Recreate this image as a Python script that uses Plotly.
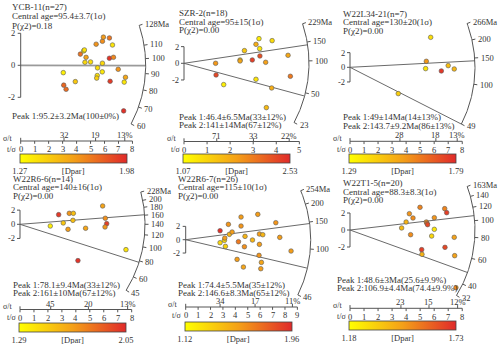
import numpy as np
import plotly.graph_objects as go

W, H = 500, 344
FONT = "Liberation Serif"
INK = "#333333"
LINE = "#555555"

# ---- sample summaries
samples = ["YCB-11", "SZR-2", "W22L34-21", "W22R6-6", "W22R6-7", "W22T1-5"]
n_grains = [27, 18, 7, 14, 26, 20]
central_txt = ["95.4±3.7", "95±15", "130±20", "140±16", "115±10", "88.3±8.3"]
central_age = [95.4, 95, 130, 140, 115, 88.3]
p_chi2 = ["0.18", "0.00", "0.00", "0.00", "0.00", "0.00"]
peak_txt = [
    ["95.2±3.2Ma(100±0%)"],
    ["46.4±6.5Ma(33±12%)", "141±14Ma(67±12%)"],
    ["49±14Ma(14±13%)", "143.7±9.2Ma(86±13%)"],
    ["78.1±9.4Ma(33±12%)", "161±10Ma(67±12%)"],
    ["74.4±5.5Ma(35±12%)", "146.6±8.3Ma(65±12%)"],
    ["48.6±3Ma(25.6±9.9%)", "106.9±4.4Ma(74.4±9.9%)"],
]
peak_age = [[95.2], [46.4, 141], [49, 143.7], [78.1, 161], [74.4, 146.6], [48.6, 106.9]]

# ---- radial scale ticks (age arc), t/sigma and sigma/t scales
arc_ticks = [
    [128, 110, 100, 90, 80, 70, 60],
    [229, 150, 100, 50, 23],
    [266, 200, 150, 100, 49],
    [228, 200, 180, 160, 140, 120, 100, 80, 60, 45],
    [254, 200, 150, 100, 46],
    [163, 140, 120, 100, 80, 60, 40, 32],
]
tsig_max = [8, 5, 8, 8, 9, 8]
sigt_labels = [["32", "19", "13%"], ["71", "33", "22%"], ["28", "18", "13%"],
               ["45", "20", "13%"], ["34", "17", "11%"], ["23", "15", "12%"]]
sigt_pos = [[3.1, 5.36, 7.45], [1.42, 3.01, 4.56], [3.56, 6.12, 7.64],
            [2.2, 4.9, 7.71], [2.77, 5.59, 8.6], [3.63, 5.63, 7.67]]
dpar_min = [1.27, 1.07, 1.29, 1.29, 1.12, 1.18]
dpar_max = [1.98, 2.53, 1.79, 2.05, 1.96, 1.73]

# ---- grains: x = t/sigma, z = standardised estimate, Dpar
ycb11_x = [3.05, 3.08, 3.25, 3.91, 4.27, 4.51, 4.56, 4.68, 4.6, 5.0, 5.4, 5.5, 5.48, 5.44,
           5.84, 5.85, 5.92, 5.85, 6.35, 6.57, 6.35, 6.64, 6.4, 6.98, 7.5, 7.41, 7.37]
ycb11_z = [-0.46, -1.24, -1.5, -1.02, 0.7, 0.9, 0.96, 0.5, 0.19, 0.21, 1.32, -0.16, -0.64, -0.8,
           -0.41, 1.5, 1.76, 0.13, 1.71, 1.27, 0.44, 0.5, -1.0, -0.25, -0.75, -1.05, -2.85]
ycb11_dpar = [1.33, 1.80, 1.78, 1.48, 1.76, 1.35, 1.38, 1.62, 1.42, 1.40, 1.66, 1.40, 1.38, 1.45,
              1.36, 1.68, 1.64, 1.42, 1.75, 1.37, 1.95, 1.70, 1.93, 1.66, 1.60, 1.36, 1.96]

szr2_x = [1.37, 1.39, 1.72, 2.62, 2.43, 2.43, 2.96, 3.12, 3.25, 3.28, 3.29, 3.12, 3.54, 3.82,
          3.8, 3.57, 4.51, 4.61]
szr2_z = [0.0, -1.4, -2.56, 1.52, 0.4, 0.28, 0.4, 2.28, 2.96, 1.76, 0.88, -1.92, 0.12, 2.72,
          -2.96, -5.32, 0.96, -1.56]
szr2_dpar = [1.85, 2.35, 1.20, 1.50, 1.45, 1.75, 2.40, 1.70, 1.22, 1.25, 2.30, 1.28, 1.80, 1.35,
             1.70, 1.60, 1.75, 2.05]

w22l34_x = [3.44, 5.44, 5.39, 5.75, 6.51, 7.0, 7.43]
w22l34_z = [-3.59, 0.82, -0.18, 4.09, -0.5, 0.23, -0.23]
w22l34_dpar = [1.42, 1.56, 1.36, 1.38, 1.76, 1.46, 1.48]

w22r66_x = [2.17, 2.77, 3.1, 3.44, 3.53, 3.82, 3.79, 4.7, 5.92, 6.11, 6.21, 6.09, 7.59, 4.15]
w22r66_z = [-0.24, 1.36, 0.19, -0.71, 1.55, 1.55, 0.56, -0.56, 2.59, 0.85, 0.09, -0.38, -3.58, -5.13]
w22r66_dpar = [1.36, 2.00, 1.52, 1.68, 1.70, 1.55, 1.55, 1.65, 1.66, 1.72, 1.98, 1.70, 1.40, 2.02]

w22r67_x = [2.77, 2.77, 3.12, 3.15, 3.2, 3.44, 3.52, 3.74, 4.25, 4.46, 4.46, 4.78, 4.73,
            4.14, 4.65, 5.38, 5.81, 5.94, 6.21, 5.94, 5.91, 6.1, 6.05, 7.26, 7.58, 8.49]
w22r67_z = [1.35, -0.45, -0.1, 0.25, -1.0, 2.3, 0.8, 1.15, -0.3, 3.4, 2.05, 0.5, -1.05,
            -2.95, -4.1, -0.05, 3.8, 0.85, 0.75, -0.7, -2.35, -3.4, -4.35, 2.55, 0.35, -1.7]
w22r67_dpar = [1.94, 1.30, 1.30, 1.55, 1.32, 1.58, 1.45, 1.55, 1.68, 1.55, 1.58, 1.45, 1.60,
               1.55, 1.52, 1.45, 1.55, 1.55, 1.45, 1.55, 1.58, 1.52, 1.55, 1.58, 1.55, 1.55]

w22t15_x = [3.68, 4.0, 4.23, 4.49, 4.32, 4.99, 5.11, 5.13, 5.44, 5.49, 5.53, 6.01, 6.01, 5.82,
            6.75, 6.89, 6.77, 7.43, 7.46, 7.55]
w22t15_z = [0.24, 0.94, 1.92, 1.41, -0.55, 2.67, -2.31, -2.86, 0.94, 0.78, 0.63, 1.45, 0.08, -0.71,
            2.51, 2.04, -2.04, -0.86, -3.02, -6.78]
w22t15_dpar = [1.38, 1.40, 1.48, 1.50, 1.50, 1.52, 1.68, 1.40, 1.48, 1.55, 1.66, 1.48, 1.25, 1.30,
               1.52, 1.68, 1.66, 1.45, 1.45, 1.50]

grain_x = [ycb11_x, szr2_x, w22l34_x, w22r66_x, w22r67_x, w22t15_x]
grain_z = [ycb11_z, szr2_z, w22l34_z, w22r66_z, w22r67_z, w22t15_z]
grain_dpar = [ycb11_dpar, szr2_dpar, w22l34_dpar, w22r66_dpar, w22r67_dpar, w22t15_dpar]

# ---- panel geometry (pixels): origin, px per unit, arc stretch, text rows, scale line, colour bar
geom = [
    dict(col=0, row=0, x0=20.7, y0=65.3, sx=13.97, sy=16.0, ka=1.0, tx=11, ty=7, lh=9.3,
         px=11, py=116, sl=141.0, cb=154.0),
    dict(col=1, row=0, x0=184.0, y0=63.3, sx=23.07, sy=8.33, ka=1.05, tx=177.5, ty=13.5, lh=8.3,
         px=177.5, py=116.7, sl=141.5, cb=154.0),
    dict(col=2, row=0, x0=350.0, y0=67.3, sx=14.03, sy=7.33, ka=1.0, tx=341.5, ty=14, lh=8.3,
         px=341.5, py=117.3, sl=141.3, cb=154.3),
    dict(col=0, row=1, x0=20.0, y0=224.3, sx=13.96, sy=7.08, ka=1.08, tx=11.5, ty=178.7, lh=8.7,
         px=11.5, py=284.7, sl=309.5, cb=323.0),
    dict(col=1, row=1, x0=185.7, y0=239.7, sx=12.41, sy=6.67, ka=1.0, tx=176.5, ty=178.7, lh=8.7,
         px=176.5, py=285.0, sl=307.0, cb=322.3),
    dict(col=2, row=1, x0=350.0, y0=230.0, sx=14.03, sy=8.5, ka=1.0, tx=341.5, ty=182.7, lh=8.8,
         px=336, py=279.8, sl=308.3, cb=321.0),
]
R = 125.0
colorscale = [[0, "#FFFF00"], [0.5, "#F4A018"], [1, "#E02A2A"]]

fig = go.Figure()


def txt(x, y, s, xref="paper", yref="paper", xanchor="left", yanchor="middle", size=9):
    if xref == "paper":
        x, y = x / W, 1 - y / H
    fig.add_annotation(x=x, y=y, xref=xref, yref=yref, text=s, showarrow=False,
                       xanchor=xanchor, yanchor=yanchor, borderpad=0,
                       font=dict(family=FONT, size=size, color=INK))


for i in range(6):
    g = geom[i]
    k = "" if i == 0 else str(i + 1)
    xa, ya = "x" + k, "y" + k
    x0, y0, sx, sy = g["x0"], g["y0"], g["sx"], g["sy"]
    left = g["col"] * 165.0
    right = min(left + 168.0, W)
    top = g["row"] * 172.0
    bot = top + 172.0
    fig.update_layout({
        "xaxis" + k: dict(domain=[left / W, right / W], range=[(left - x0) / sx, (right - x0) / sx],
                          visible=False, anchor=ya, fixedrange=True),
        "yaxis" + k: dict(domain=[1 - bot / H, 1 - top / H], range=[(y0 - bot) / sy, (y0 - top) / sy],
                          visible=False, anchor=xa, fixedrange=True),
    })

    def line(xs, ys, color=LINE, width=1.0):
        fig.add_trace(go.Scatter(x=xs, y=ys, mode="lines", line=dict(color=color, width=width),
                                 xaxis=xa, yaxis=ya, hoverinfo="skip", showlegend=False))

    t0 = central_age[i]
    ka = g["ka"]

    def theta(t):
        return np.arctan2(ka * sy * np.log(t / t0), sx)

    def polar(th, r):
        return r * np.cos(th) / sx, r * np.sin(th) / sy

    # peak lines
    for pa in peak_age[i]:
        ex, ey = polar(theta(pa), R)
        if len(peak_age[i]) == 1:
            line([0, ex], [0, ey], color="#9a9a9a", width=1.8)
        else:
            line([0, ex], [0, ey], color="#6a6a6a", width=1.0)

    # age arc with ticks and labels
    ages = arc_ticks[i]
    th = np.linspace(theta(min(ages)), theta(max(ages)), 100)
    ax_, ay_ = polar(th, R)
    line(list(ax_), list(ay_))
    tx_, ty_ = [], []
    for j, a in enumerate(ages):
        a_th = theta(a)
        p1 = polar(a_th, R)
        p2 = polar(a_th, R + 3.5)
        tx_ += [p1[0], p2[0], None]
        ty_ += [p1[1], p2[1], None]
        lp = polar(a_th, R + 5)
        label = f"{a}Ma" if j == 0 else f"{a}"
        txt(lp[0], lp[1], label, xref=xa, yref=ya, size=8.5)
    line(tx_, ty_)

    # z axis (-2..2)
    zx, zy = [0, 0, None], [-2, 2, None]
    for v in [-2, 0, 2]:
        zx += [0, -3 / sx, None]
        zy += [v, v, None]
        txt(-4.5 / sx, v, str(v), xref=xa, yref=ya, xanchor="right", size=8.5)
    line(zx, zy)

    # combined sigma/t (top) and t/sigma (bottom) scale
    sl = g["sl"]
    ly = (y0 - sl) / sy
    m = tsig_max[i]
    sxs, sys_ = [0, m, None], [ly, ly, None]
    for v in [0] + sigt_pos[i]:
        sxs += [v, v, None]
        sys_ += [ly, ly + 3.2 / sy, None]
    for v in range(m + 1):
        sxs += [v, v, None]
        sys_ += [ly, ly - 2.8 / sy, None]
    line(sxs, sys_)
    for v, lab in zip(sigt_pos[i], sigt_labels[i]):
        txt(v, ly + 6.0 / sy, lab, xref=xa, yref=ya, xanchor="center", size=8.5)
    for v in range(m + 1):
        txt(v, ly - 8.3 / sy, str(v), xref=xa, yref=ya, xanchor="center", size=8.5)
    txt(x0 - 6.5, sl - 3, "σ/t", xanchor="right", size=8)
    txt(x0 - 3.5, sl + 8.3, "t/σ", xanchor="right", size=8)

    # grains coloured by Dpar
    fig.add_trace(go.Scatter(
        x=grain_x[i], y=grain_z[i], mode="markers", xaxis=xa, yaxis=ya, showlegend=False,
        marker=dict(color=grain_dpar[i], coloraxis="coloraxis" + k, size=4.6,
                    line=dict(color="#5a5a5a", width=0.6)),
    ))
    lo, hi = dpar_min[i], dpar_max[i]
    fig.update_layout({"coloraxis" + k: dict(
        colorscale=colorscale, cmin=lo, cmax=hi,
        colorbar=dict(orientation="h", x=(x0 - 1) / W, xanchor="left",
                      y=1 - g["cb"] / H, yanchor="top",
                      len=107, lenmode="pixels", thickness=9, thicknessmode="pixels",
                      xpad=0, ypad=0, outlinewidth=0.8, outlinecolor="#444",
                      tickvals=[lo, (lo + hi) / 2, hi],
                      ticktext=[f"{lo:.2f}", "[Dpar]", f"{hi:.2f}"], ticks="", ticklen=0,
                      tickfont=dict(family=FONT, size=8.5, color=INK)),
    )})

    # header and peak text
    lh = g["lh"]
    txt(g["tx"], g["ty"], f"{samples[i]}(n={n_grains[i]})")
    txt(g["tx"], g["ty"] + lh, f"Central age={central_txt[i]}(1σ)")
    txt(g["tx"], g["ty"] + 2 * lh, f"P(χ2)={p_chi2[i]}")
    for j, pt in enumerate(peak_txt[i]):
        txt(g["px"], g["py"] + j * 8.4, f"Peak {j + 1}:{pt}")

fig.update_layout(width=W, height=H,
                  margin=dict(l=0, r=0, t=0, b=0, autoexpand=False),
                  plot_bgcolor="white", paper_bgcolor="white", showlegend=False)
# the page body keeps its default 8px margin otherwise
fig.write_html("out.html", config={"displayModeBar": False},
               post_script="document.body.style.margin='0px';")
